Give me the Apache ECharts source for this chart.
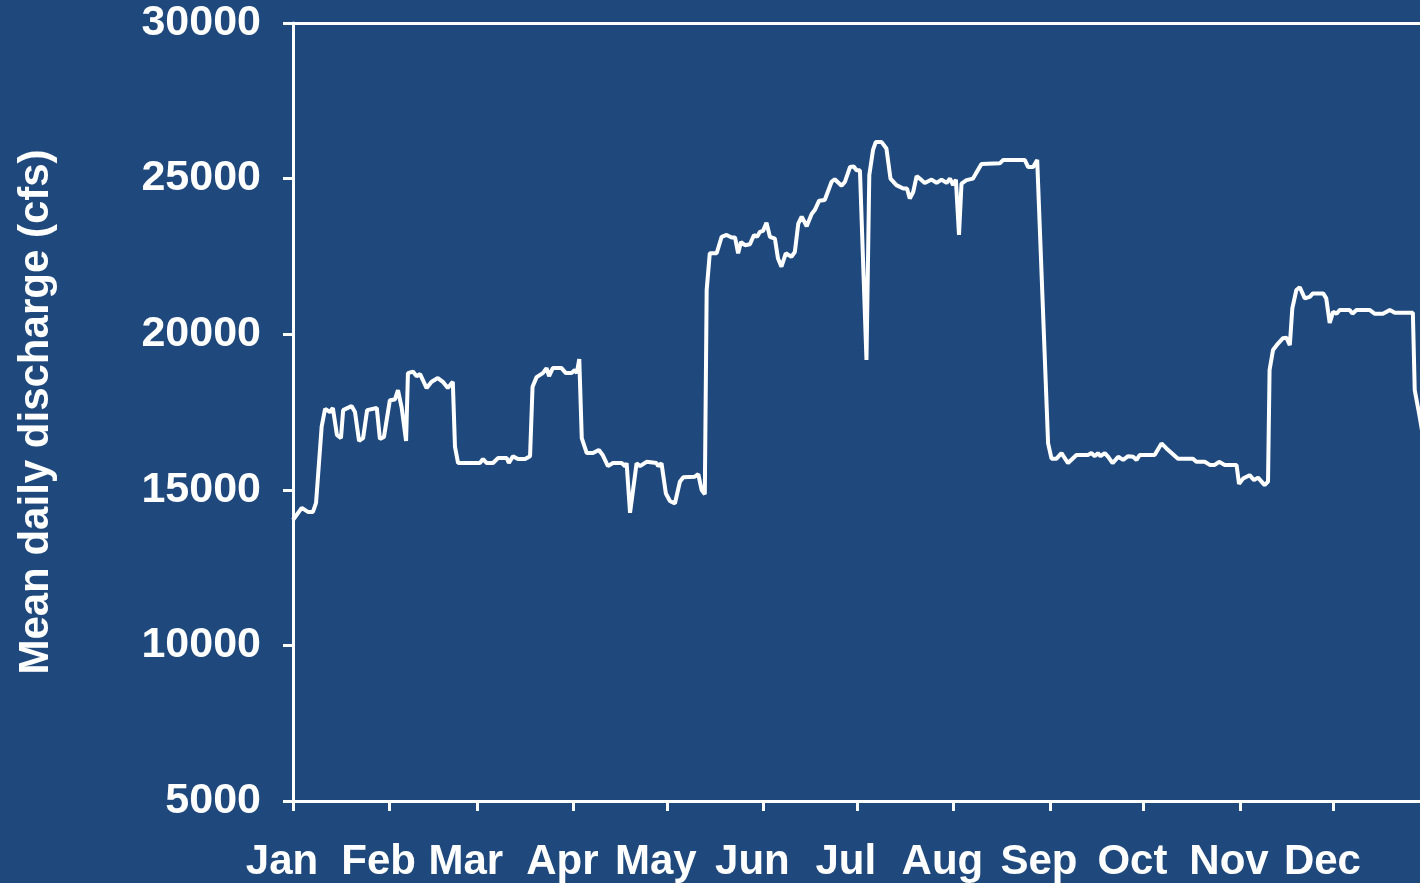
<!DOCTYPE html>
<html>
<head>
<meta charset="utf-8">
<title>Mean daily discharge</title>
<script src="https://cdn.jsdelivr.net/npm/echarts@6/dist/echarts.min.js"></script>
<style>
  html, body { margin: 0; padding: 0; background: #1F497D; }
  #chart { width: 1420px; height: 883px; }
</style>
</head>
<body>
<div id="chart"></div>
<script>
// month names and the day of year each month starts on
const months = ["Jan", "Feb", "Mar", "Apr", "May", "Jun", "Jul", "Aug", "Sep", "Oct", "Nov", "Dec"];
const monthStart = [0, 31, 59, 90, 120, 151, 181, 212, 243, 273, 304, 334];

const yTicks = [5000, 10000, 15000, 20000, 25000, 30000];

// readings: day of year -> mean daily discharge (cfs)
const day = [
  0, 2.8, 4.8, 6.4, 7.4, 9.2, 10.3, 11.9, 12.8, 14.1, 15.4, 16.1, 18.8, 19.9, 21.2, 22.5, 23.8, 26.9, 27.9, 29.2,
  31.1, 32.7, 33.7, 34.9, 36.3, 36.9, 38.5, 39.7, 40.8, 42.9, 44.5, 46.5, 48.1, 49.7, 51.3, 52.0, 53.0,
  60.0, 61.0, 62.2, 64.2, 65.8, 68.6, 69.3, 70.6, 72.2, 74.5, 76.1, 76.9, 78.2, 80.2, 81.4, 82.2, 83.4,
  86.2, 87.6, 89.4, 90.5, 91.1, 91.9, 92.7, 94.3, 96.3, 98.2, 99.4, 101.1, 102.7, 105.5, 106.6, 107.1,
  108.2, 110.3, 111.4, 113.5, 116.7, 117.2, 118.3, 119.7, 121.0, 122.6, 124.2, 125.3, 129.0, 130.1,
  131.2, 132.2, 132.8, 133.8, 136.0, 137.6, 139.2, 140.8, 141.9, 142.9, 143.8, 145.1, 146.7, 148.0,
  149.0, 149.9, 150.9, 152.0, 153.1, 154.7, 155.7, 156.8, 158.2, 160.0, 161.1, 162.2, 163.3, 164.9,
  166.5, 167.5, 168.9, 170.7, 172.9, 173.9, 176.1, 177.2, 178.8, 180.0, 180.9, 182.0, 184.1, 185.0,
  186.2, 187.1, 188.9, 190.5, 191.8, 193.7, 195.9, 197.1, 198.0, 199.1, 200.2, 201.2, 202.8, 205.0,
  206.6, 208.2, 209.8, 210.9, 211.9, 212.8, 213.8, 214.6, 216.2, 218.3, 219.2, 221.0, 226.9, 228.0,
  234.9, 236.0, 237.6, 238.9, 242.4, 243.5, 245.1, 246.7, 248.8, 251.5, 255.2, 256.3, 257.4, 258.4,
  259.2, 260.6, 261.7, 263.1, 264.9, 266.5, 268.1, 269.7, 270.8, 271.8, 276.6, 278.8, 280.4, 284.1,
  288.9, 290.0, 292.7, 294.3, 295.9, 297.3, 299.1, 302.9, 303.7, 305.0, 307.1, 308.5, 309.8, 311.9,
  313.0, 313.5, 314.6, 316.2, 317.8, 318.9, 320.0, 320.8, 322.1, 323.2, 324.8, 326.4, 327.4, 330.7,
  331.7, 332.8, 333.9, 335.0, 336.0, 339.2, 340.1, 341.4, 345.6, 347.2, 349.9, 352.1, 353.7, 359.5,
  360.1, 361.7, 362.6
];
const discharge = [
  14030, 14420, 14290, 14290, 14580, 17030, 17600, 17500, 17630, 16760, 16660, 17560, 17690, 17500, 16570, 16660, 17560, 17630, 16630, 16700,
  17880, 17900, 18200, 17630, 16570, 18750, 18800, 18650, 18720, 18270, 18470, 18590, 18470, 18270, 18470, 16380, 15860,
  15860, 15990, 15860, 15860, 16020, 16020, 15860, 16080, 15990, 15990, 16080, 18310, 18620, 18750, 18910, 18650, 18910,
  18910, 18750, 18750, 18850, 18750, 19200, 16660, 16180, 16180, 16280, 16120, 15760, 15860, 15860, 15760, 15860,
  14260, 15850, 15760, 15900, 15860, 15760, 15850, 14880, 14640, 14560, 15260, 15400, 15420, 15500,
  14990, 14860, 21420, 22600, 22600, 23130, 23190, 23110, 23110, 22600, 22960, 22860, 22890, 23190,
  23130, 23290, 23320, 23580, 23130, 23070, 22430, 22170, 22600, 22490, 22640, 23550, 23780, 23470,
  23860, 23990, 24290, 24310, 24900, 24980, 24770, 24900, 25370, 25390, 25270, 25270, 19170, 25110,
  25920, 26180, 26180, 25970, 25000, 24790, 24680, 24680, 24360, 24570, 25080, 25000, 24860, 24970,
  24860, 24970, 24860, 25000, 24790, 24970, 23190, 24840, 24950, 25000, 25160, 25470, 25490, 25600,
  25600, 25370, 25370, 25600, 16490, 16000, 16000, 16180, 15860, 16120, 16120, 16180, 16080, 16180,
  16080, 16180, 16060, 15860, 16060, 15960, 16080, 16060, 15960, 16120, 16120, 16490, 16330, 16000,
  16000, 15900, 15900, 15800, 15800, 15900, 15800, 15800, 15190, 15360, 15470, 15310, 15390, 15150,
  15260, 18850, 19490, 19700, 19870, 19890, 19650, 20830, 21420, 21510, 21150, 21200, 21310, 21310,
  21150, 20360, 20720, 20660, 20780, 20780, 20660, 20780, 20780, 20660, 20660, 20780, 20690, 20690,
  18200, 17340, 16800
];

const white = "#FFFFFF";
const font = "'Liberation Sans', Arial, sans-serif";

const chartDom = document.getElementById("chart");
const myChart = echarts.init(chartDom);

const points = day.map((d, i) => [d, discharge[i]]);

const option = {
  backgroundColor: "#1F497D",
  animation: false,
  // the plot runs a little past the right edge of the picture
  grid: {
    left: 293,
    top: 23,
    bottom: 82,
    width: 1137,
    outerBoundsMode: "none",
  },
  xAxis: [
    {
      type: "value",
      min: 0,
      max: 365,
      axisLine: { show: true, lineStyle: { color: white, width: 3 } },
      axisTick: {
        show: true,
        customValues: monthStart,
        length: 10,
        lineStyle: { color: white, width: 3 },
      },
      axisLabel: {
        customValues: monthStart,
        formatter: (v) => months[monthStart.indexOf(v)] || "",
        color: white,
        fontFamily: font,
        fontWeight: "bold",
        fontSize: 42,
        margin: 40,
        padding: [0, 22, 0, 0],
      },
      splitLine: { show: false },
    },
    {
      // top border of the plot
      type: "value",
      position: "top",
      min: 0,
      max: 365,
      axisLine: { show: true, lineStyle: { color: white, width: 3 } },
      axisTick: { show: false },
      axisLabel: { show: false },
      splitLine: { show: false },
    },
  ],
  yAxis: {
    type: "value",
    min: yTicks[0],
    max: yTicks[yTicks.length - 1],
    interval: 5000,
    name: "Mean daily discharge (cfs)",
    nameLocation: "middle",
    nameGap: 236,
    nameTextStyle: {
      color: white,
      fontFamily: font,
      fontWeight: "bold",
      fontSize: 42,
    },
    axisLine: { show: true, lineStyle: { color: white, width: 3 } },
    axisTick: { show: true, length: 10, lineStyle: { color: white, width: 3 } },
    axisLabel: {
      formatter: (v) => String(v),
      color: white,
      fontFamily: font,
      fontWeight: "bold",
      fontSize: 43,
      margin: 32,
    },
    splitLine: { show: false },
  },
  series: [
    {
      type: "line",
      data: points,
      showSymbol: false,
      smooth: false,
      lineStyle: { color: white, width: 4 },
    },
  ],
};

myChart.setOption(option);
window.addEventListener("resize", () => myChart.resize());
</script>
</body>
</html>
